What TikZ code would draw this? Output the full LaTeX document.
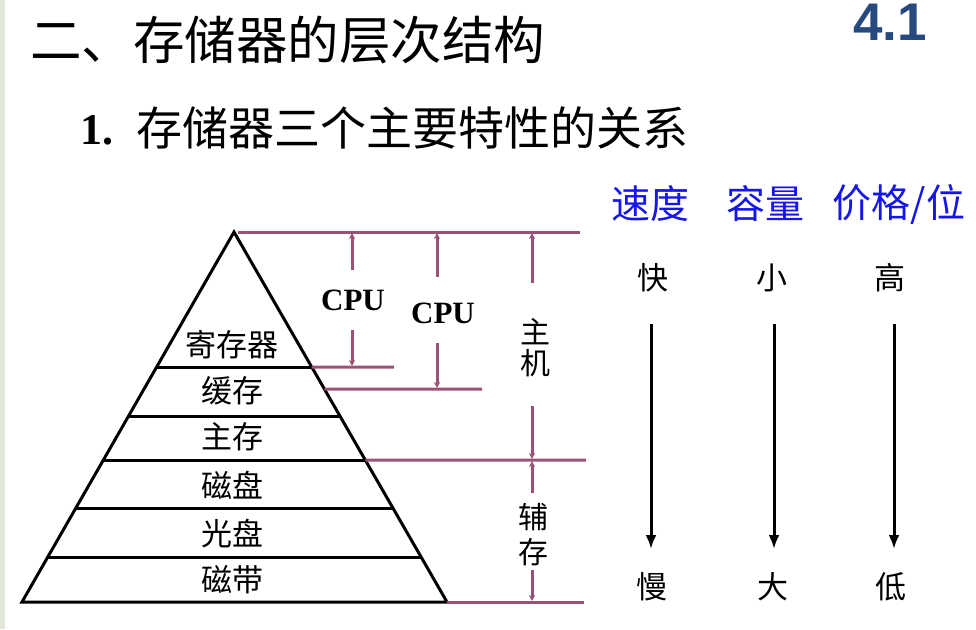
\documentclass[tikz,border=0pt]{standalone}
\usepackage{fontspec}
\setmainfont{Liberation Serif}
\newfontfamily\cjk{Noto Sans CJK SC}
\newfontfamily\headsans{Liberation Sans}
\usetikzlibrary{arrows.meta,calc}
\definecolor{pur}{RGB}{153,82,117}
\definecolor{hblue}{RGB}{22,22,232}
\definecolor{numblue}{RGB}{38,74,128}
\definecolor{stripc}{RGB}{226,232,218}
\tikzset{
  lbl/.style={inner sep=0pt,font=\cjk\fontsize{31}{31}\selectfont},
  head/.style={inner sep=0pt,text=hblue,font=\cjk\fontsize{39}{39}\selectfont},
  cpu/.style={inner sep=0pt,font=\bfseries\fontsize{31}{31}\selectfont},
  pyr/.style={line width=3pt,black},
  pline/.style={line width=3pt,pur},
  parrow/.style={line width=3pt,pur,-{Stealth[length=6pt,width=6pt]}},
  barrow/.style={line width=3pt,black,-{Latex[length=14pt,width=11pt]}},
}
\begin{document}
\begin{tikzpicture}[x=1pt,y=-1pt]
\useasboundingbox (0,0) rectangle (976,629);
\fill[stripc] (0,0) rectangle (5,629);
% titles
\node[inner sep=0pt,anchor=west,font=\cjk\fontsize{51.5}{51.5}\selectfont] (title) at (30,40) {二、存储器的层次结构};
\node[inner sep=0pt,anchor=west,font=\bfseries\fontsize{44}{44}\selectfont] (num) at (80,130) {1.};
\node[inner sep=0pt,anchor=west,font=\cjk\fontsize{46}{46}\selectfont] (sub) at (136,128) {存储器三个主要特性的关系};
\node[inner sep=0pt,anchor=north,text=numblue,font=\headsans\bfseries\fontsize{53}{53}\selectfont] (sec) at (890,4) {4.1};
% pyramid
\coordinate (apex) at (234,232);
\coordinate (bl) at (22,602);
\coordinate (br) at (447,602);
\draw[pyr,line join=miter] (bl) -- (apex) -- (br) -- cycle;
\foreach \y/\n in {367/a,416/b,460/c,508/d,557/e}{
  \coordinate (L\n) at ($(apex)!{(\y-232)/370}!(bl)$);
  \coordinate (R\n) at ($(apex)!{(\y-232)/370}!(br)$);
  \draw[pyr] (L\n) -- (R\n);
}
\coordinate (Rcache) at ($(apex)!{157/370}!(br)$);
\node[lbl] (reg) at (232,345) {寄存器};
\node[lbl] (cache) at (232,391) {缓存};
\node[lbl] (mem) at (232,437) {主存};
\node[lbl] (disk) at (232,485) {磁盘};
\node[lbl] (opt) at (232,534) {光盘};
\node[lbl] (tape) at (232,580) {磁带};
% purple level lines
\coordinate (T0) at (238,232);
\coordinate (T1) at (580,232);
\coordinate (Ra2) at (394,367);
\coordinate (Rc2) at (482,389);
\coordinate (Rm2) at (586,460);
\coordinate (Rb2) at (584,602);
\draw[pline] (T0) -- (T1);
\draw[pline] (Ra) -- (Ra2);
\draw[pline] (Rcache) -- (Rc2);
\draw[pline] (Rc) -- (Rm2);
\draw[pline] (br) -- (Rb2);
% labels
\node[cpu] (cpu1) at (353,300) {CPU};
\node[cpu] (cpu2) at (443,313) {CPU};
\node[lbl,font=\cjk\fontsize{30}{30}\selectfont] (zhu) at (535,332) {主};
\node[lbl,font=\cjk\fontsize{30}{30}\selectfont] (ji) at (535,363) {机};
\node[lbl,font=\cjk\fontsize{30}{30}\selectfont] (fu) at (533,517) {辅};
\node[lbl,font=\cjk\fontsize{30}{30}\selectfont] (cun) at (533,552) {存};
% purple arrows
\coordinate (a1s) at (352,270); \coordinate (a1t) at (352,233);
\coordinate (a1d) at (352,330); \coordinate (a1e) at (352,366);
\coordinate (a2s) at (437,277); \coordinate (a2t) at (437,233);
\coordinate (a2d) at (437,343); \coordinate (a2e) at (437,388);
\coordinate (a3s) at (532,283); \coordinate (a3t) at (532,233);
\coordinate (a3d) at (532,406); \coordinate (a3e) at (532,459);
\coordinate (a4s) at (532,493); \coordinate (a4t) at (532,461);
\coordinate (a4d) at (532,570); \coordinate (a4e) at (532,601);
\foreach \p in {a1,a2,a3,a4}{
  \draw[parrow] (\p s) -- (\p t);
  \draw[parrow] (\p d) -- (\p e);
}
% right columns
\node[head] (speed) at (650,204) {速度};
\node[head] (cap) at (765,204) {容量};
\node[head] (price) at (899,204) {价格/位};
\node[lbl] (fast) at (653,278) {快};
\node[lbl] (small) at (772,278) {小};
\node[lbl] (high) at (890,278) {高};
\node[lbl] (slow) at (652,587) {慢};
\node[lbl] (big) at (773,587) {大};
\node[lbl] (low) at (891,587) {低};
\coordinate (s1) at (651,324); \coordinate (e1) at (651,549);
\coordinate (s2) at (774,324); \coordinate (e2) at (774,549);
\coordinate (s3) at (894,324); \coordinate (e3) at (894,549);
\draw[barrow] (s1) -- (e1);
\draw[barrow] (s2) -- (e2);
\draw[barrow] (s3) -- (e3);
\end{tikzpicture}
\end{document}
